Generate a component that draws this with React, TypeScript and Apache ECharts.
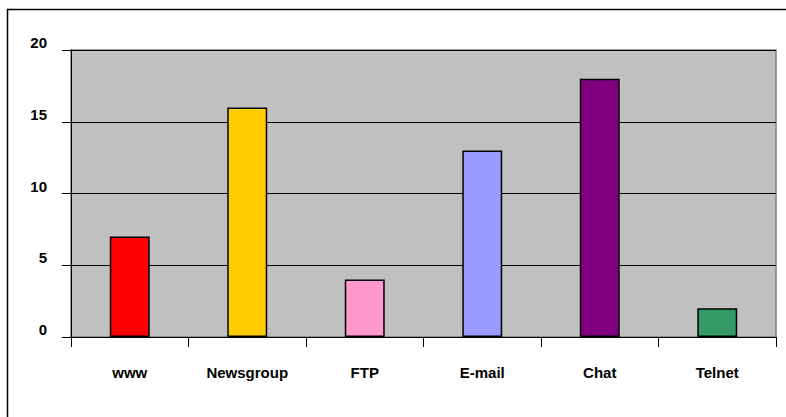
import React, { useEffect, useRef } from "react";
import * as echarts from "echarts";

const categories = ["www", "Newsgroup", "FTP", "E-mail", "Chat", "Telnet"];
const values = [7, 16, 4, 13, 18, 2];
const barColors = ["#FF0000", "#FFCC00", "#FF99CC", "#9999FF", "#800080", "#339966"];
const yTicks = { min: 0, max: 20, interval: 5 };

export default function App() {
  const ref = useRef<HTMLDivElement>(null);
  useEffect(() => {
    if (!ref.current) return;
    const chart = echarts.init(ref.current, null, { renderer: "svg" });
    const font = "Liberation Sans, Arial, sans-serif";
    chart.setOption({
      animation: false,
      backgroundColor: "#FFFFFF",
      graphic: [
        {
          type: "rect",
          shape: { x: 7.5, y: 9.5, width: 800, height: 420 },
          style: { fill: "none", stroke: "#000000", lineWidth: 1.5 },
          silent: true,
          z: -1,
        },
      ],
      grid: {
        left: 71,
        top: 50,
        right: 10,
        bottom: 80,
        show: true,
        backgroundColor: "#C0C0C0",
        borderColor: "#808080",
        borderWidth: 1.5,
      },
      xAxis: {
        type: "category",
        data: categories,
        axisLine: { lineStyle: { color: "#000000", width: 1 } },
        axisTick: { show: true, length: 10, alignWithLabel: false, lineStyle: { color: "#000000" } },
        axisLabel: {
          color: "#000000",
          fontFamily: font,
          fontWeight: "bold",
          fontSize: 15,
          margin: 28,
        },
        splitLine: { show: false },
      },
      yAxis: {
        type: "value",
        min: yTicks.min,
        max: yTicks.max,
        interval: yTicks.interval,
        axisLine: { show: true, lineStyle: { color: "#000000", width: 1 } },
        axisTick: { show: true, length: 9, lineStyle: { color: "#000000" } },
        axisLabel: {
          color: "#000000",
          fontFamily: font,
          fontWeight: "bold",
          fontSize: 15,
          margin: 24,
          verticalAlign: "bottom",
          lineHeight: 15,
        },
        splitLine: { show: true, lineStyle: { color: "#000000", width: 1 } },
      },
      series: [
        {
          type: "bar",
          barWidth: "34%",
          data: values.map((v, i) => ({
            value: v,
            itemStyle: { color: barColors[i], borderColor: "#000000", borderWidth: 1.5 },
          })),
        },
      ],
    });
    return () => chart.dispose();
  }, []);
  return (
    <div
      ref={ref}
      style={{ position: "absolute", left: 0, top: 0, width: 786, height: 417 }}
    />
  );
}
